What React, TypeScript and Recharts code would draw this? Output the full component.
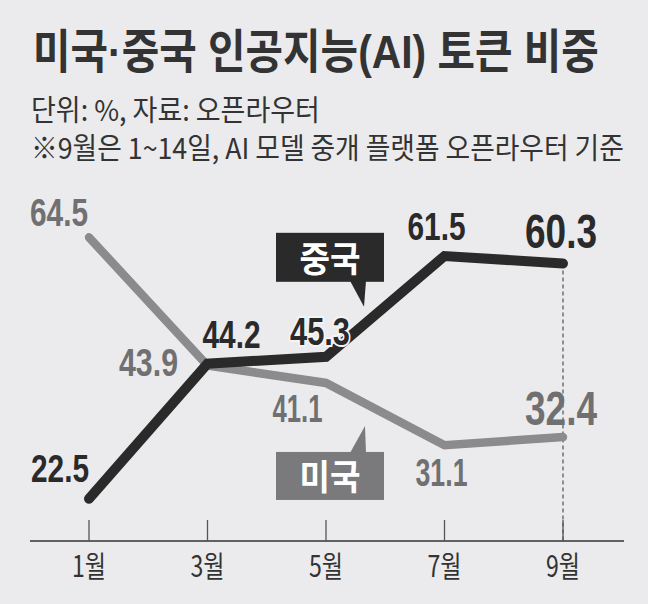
import React, { useLayoutEffect, useRef, useState } from 'react';
import {
  LineChart,
  Line,
  XAxis,
  YAxis,
  LabelList,
  ReferenceLine,
  ReferenceDot,
} from 'recharts';

// chart values
const MONTHS = ['1월', '3월', '5월', '7월', '9월'];
const CHINA = [22.5, 44.2, 45.3, 61.5, 60.3];
const USA = [64.5, 43.9, 41.1, 31.1, 32.4];

const TITLE = '미국·중국 인공지능(AI) 토큰 비중';
const SUBTITLE = '단위: %, 자료: 오픈라우터';
const NOTE = '※9월은 1~14일, AI 모델 중개 플랫폼 오픈라우터 기준';

const Y_MIN = 15.7;
const Y_MAX = 70.5;

const data = MONTHS.map((m, i) => ({ month: m, china: CHINA[i], usa: USA[i] }));

const BG = '#ebebed';
const DARK = '#2a2a2a';
const GRAY_LINE = '#8b8b8d';
const GRAY_TEXT = '#707072';
const KR_FONT = '"Noto Sans CJK KR", "Noto Sans", sans-serif';
const TITLE_FONT = '"Liberation Sans", "Noto Sans CJK KR", sans-serif';
const NUM_FONT = '"Liberation Sans", Arial, sans-serif';

// label offsets from each point (text anchor middle, baseline) and squeezed width
const CHINA_LABELS = [
  { dx: -29, dy: -17, w: 58 },
  { dx: 24, dy: -16, w: 58 },
  { dx: -6, dy: -11.5, w: 60 },
  { dx: -8, dy: -16.5, w: 58 },
  { dx: -2, dy: -15, w: 72 },
];
const USA_LABELS = [
  { dx: -30, dy: -11.5, w: 58 },
  { dx: -59, dy: 10.5, w: 59 },
  { dx: -28.5, dy: 39.5, w: 50 },
  { dx: -3, dy: 40.5, w: 52 },
  { dx: -2, dy: -12, w: 72 },
];

// squeezes a header line horizontally to a given width
function FitText({ x, y, width, children, ...rest }: any) {
  const ref = useRef<SVGTextElement>(null);
  const [k, setK] = useState(1);
  useLayoutEffect(() => {
    if (ref.current) {
      const len = ref.current.getComputedTextLength();
      if (len > 0) setK(width / len);
    }
  }, [width, children]);
  return (
    <text ref={ref} x={0} y={0} transform={`translate(${x},${y}) scale(${k},1)`} {...rest}>
      {children}
    </text>
  );
}

const makeLabel =
  (opts: { dx: number; dy: number; w: number }[], color: string, haloIndex: number) =>
  (props: any) => {
    const { x, y, value, index } = props;
    const o = opts[index];
    const last = index === opts.length - 1;
    const halo = index === haloIndex;
    return (
      <text
        x={x + o.dx}
        y={y + o.dy}
        textAnchor="middle"
        fontFamily={NUM_FONT}
        fontWeight="bold"
        fontSize={last ? 48 : 38}
        fill={color}
        stroke={halo ? '#f4f4f4' : 'none'}
        strokeWidth={halo ? 4 : 0}
        paintOrder="stroke"
        textLength={o.w}
        lengthAdjust="spacingAndGlyphs"
      >
        {Number(value).toFixed(1)}
      </text>
    );
  };

const MonthTick = (props: any) => {
  const { x, y, payload } = props;
  return (
    <g>
      <line x1={x} x2={x} y1={y - 21} y2={y} stroke="#555" strokeWidth={1.3} />
      <text
        x={x}
        y={y + 36}
        textAnchor="middle"
        fontFamily={KR_FONT}
        fontSize={30}
        fill="#333"
        textLength={34}
        lengthAdjust="spacingAndGlyphs"
      >
        {payload.value}
      </text>
    </g>
  );
};

const ChinaCallout = (props: any) => {
  const { cx, cy } = props;
  return (
    <g>
      <rect x={cx - 50} y={cy - 124} width={108} height={49} fill={DARK} />
      <polygon
        points={`${cx + 24},${cy - 76} ${cx + 40},${cy - 76} ${cx + 38},${cy - 50}`}
        fill={DARK}
      />
      <text
        x={cx + 4}
        y={cy - 85}
        textAnchor="middle"
        fontFamily={KR_FONT}
        fontWeight="bold"
        fontSize={35}
        fill="#fff"
        textLength={61}
        lengthAdjust="spacingAndGlyphs"
      >
        중국
      </text>
    </g>
  );
};

const UsaCallout = (props: any) => {
  const { cx, cy } = props;
  return (
    <g>
      <rect x={cx - 50} y={cy + 69} width={108} height={48} fill="#7a7a7c" />
      <polygon
        points={`${cx + 24},${cy + 70} ${cx + 40},${cy + 70} ${cx + 39},${cy + 43}`}
        fill="#7a7a7c"
      />
      <text
        x={cx + 4}
        y={cy + 107}
        textAnchor="middle"
        fontFamily={KR_FONT}
        fontWeight="bold"
        fontSize={35}
        fill="#fff"
        textLength={61}
        lengthAdjust="spacingAndGlyphs"
      >
        미국
      </text>
    </g>
  );
};

export default function App() {
  return (
    <div
      style={{
        position: 'absolute',
        left: 0,
        top: 0,
        width: 648,
        height: 604,
        background: BG,
        overflow: 'hidden',
      }}
    >
      {/* header */}
      <svg
        width={648}
        height={180}
        style={{ position: 'absolute', left: 0, top: 0, pointerEvents: 'none' }}
      >
        <FitText x={33} y={68} width={566} fontFamily={TITLE_FONT} fontWeight="bold" fontSize={47} fill="#333">
          {TITLE}
        </FitText>
        <FitText x={31} y={121} width={289} fontFamily={KR_FONT} fontSize={29} fill="#333">
          {SUBTITLE}
        </FitText>
        <FitText x={31} y={159} width={593} fontFamily={KR_FONT} fontSize={29} fill="#333">
          {NOTE}
        </FitText>
      </svg>

      <LineChart
        width={648}
        height={604}
        data={data}
        margin={{ top: 200, right: 24, bottom: 23, left: 30 }}
      >
        <XAxis
          dataKey="month"
          height={40}
          padding={{ left: 59, right: 61 }}
          axisLine={{ stroke: '#333', strokeWidth: 1.5 }}
          tickLine={false}
          tickSize={0}
          tickMargin={0}
          tick={<MonthTick />}
          interval={0}
        />
        <YAxis hide domain={[Y_MIN, Y_MAX]} allowDataOverflow />
        <ReferenceLine
          segment={[
            { x: MONTHS[4], y: CHINA[4] },
            { x: MONTHS[4], y: Y_MIN },
          ]}
          stroke="#333"
          strokeWidth={1}
          strokeDasharray="4 3"
        />
        <Line
          dataKey="usa"
          stroke={GRAY_LINE}
          strokeWidth={8.5}
          strokeLinecap="round"
          dot={false}
          activeDot={false}
          isAnimationActive={false}
          type="linear"
        >
          <LabelList dataKey="usa" content={makeLabel(USA_LABELS, GRAY_TEXT, -1)} />
        </Line>
        <Line
          dataKey="china"
          stroke={DARK}
          strokeWidth={10}
          strokeLinecap="round"
          dot={false}
          activeDot={false}
          isAnimationActive={false}
          type="linear"
        >
          <LabelList dataKey="china" content={makeLabel(CHINA_LABELS, DARK, 2)} />
        </Line>
        <ReferenceDot x={MONTHS[2]} y={CHINA[2]} r={0} shape={<ChinaCallout />} />
        <ReferenceDot x={MONTHS[2]} y={USA[2]} r={0} shape={<UsaCallout />} />
      </LineChart>
    </div>
  );
}
